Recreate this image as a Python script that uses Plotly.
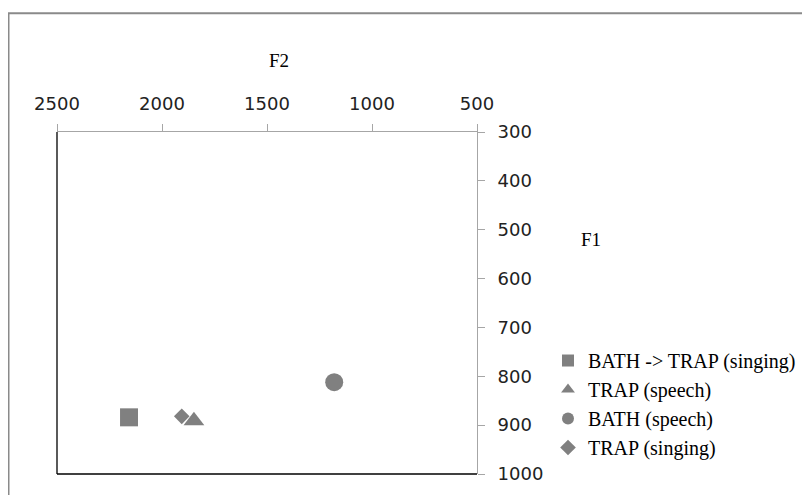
import plotly.graph_objects as go

# ---- data ----
series_names = ["BATH -> TRAP (singing)", "TRAP (speech)", "BATH (speech)", "TRAP (singing)"]
f2_values = [2157, 1848, 1180, 1906]
f1_values = [884, 891, 812, 882]
symbols = ["square", "triangle-up", "circle", "diamond"]
marker_sizes = [18, 18, 18, 12]

x_ticks = [2500, 2000, 1500, 1000, 500]
y_ticks = [300, 400, 500, 600, 700, 800, 900, 1000]

W, H = 810, 495
OFF = 8  # page body margin offset in the screenshot
# plot area in screenshot px
L, R, T, B = 57, 477, 131.5, 474.3

GRAY = "#808080"

fig = go.Figure()
for name, x, y, sym, sz in zip(series_names, f2_values, f1_values, symbols, marker_sizes):
    fig.add_trace(go.Scatter(
        x=[x], y=[y], mode="markers", name=name,
        marker=dict(symbol=sym, size=sz, color=GRAY, line=dict(width=0)),
    ))

def px_to_paper_x(px):
    return (px - L) / (R - L)

def px_to_paper_y(py):
    return (B - py) / (B - T)

shapes = [
    # outer chart border
    dict(type="rect", xref="paper", yref="paper",
         x0=px_to_paper_x(8.5), x1=px_to_paper_x(830), y0=px_to_paper_y(520), y1=px_to_paper_y(12.5),
         line=dict(color="#8a8a8a", width=2), fillcolor="rgba(0,0,0,0)", layer="below"),
    # black plot-area frame (left and bottom)
    dict(type="line", xref="paper", yref="paper", x0=0, x1=0, y0=0, y1=1,
         line=dict(color="black", width=1.3), layer="below"),
    dict(type="line", xref="paper", yref="paper", x0=0, x1=1, y0=0, y1=0,
         line=dict(color="black", width=1.3), layer="below"),
]

SERIF = "Liberation Serif, Times New Roman, serif"

fig.update_layout(
    width=W, height=H,
    margin=dict(l=L - OFF, r=W - (R - OFF), t=T - OFF, b=H - (B - OFF)),
    paper_bgcolor="white", plot_bgcolor="white",
    showlegend=True,
    legend=dict(
        x=px_to_paper_x(548), y=px_to_paper_y(341), xanchor="left", yanchor="top",
        font=dict(family=SERIF, size=20, color="black"),
        itemsizing="constant", bgcolor="rgba(0,0,0,0)", tracegroupgap=0,
    ),
    shapes=shapes,
    xaxis=dict(
        side="top", range=[2500, 500], tickvals=x_ticks, ticktext=[str(v) for v in x_ticks],
        showgrid=False, zeroline=False, showline=True, linecolor="#a6a6a6", linewidth=1,
        ticks="outside", ticklen=7, tickcolor="#a6a6a6",
        tickfont=dict(family="DejaVu Sans", size=18, color="#222"),
        ticklabelstandoff=7,
    ),
    yaxis=dict(
        side="right", range=[1000, 300], tickvals=y_ticks, ticktext=[str(v) for v in y_ticks],
        showgrid=False, zeroline=False, showline=True, linecolor="#a6a6a6", linewidth=1,
        ticks="outside", ticklen=7, tickcolor="#a6a6a6",
        tickfont=dict(family="DejaVu Sans", size=18, color="#222"),
        ticklabelstandoff=9,
    ),
    annotations=[
        dict(text="F2", xref="paper", yref="paper", x=px_to_paper_x(279), y=px_to_paper_y(60),
             showarrow=False, xanchor="center", yanchor="middle",
             font=dict(family=SERIF, size=19, color="black")),
        dict(text="F1", xref="paper", yref="paper", x=px_to_paper_x(591), y=px_to_paper_y(239),
             showarrow=False, xanchor="center", yanchor="middle",
             font=dict(family=SERIF, size=19, color="black")),
    ],
)

fig.write_html("out.html")
